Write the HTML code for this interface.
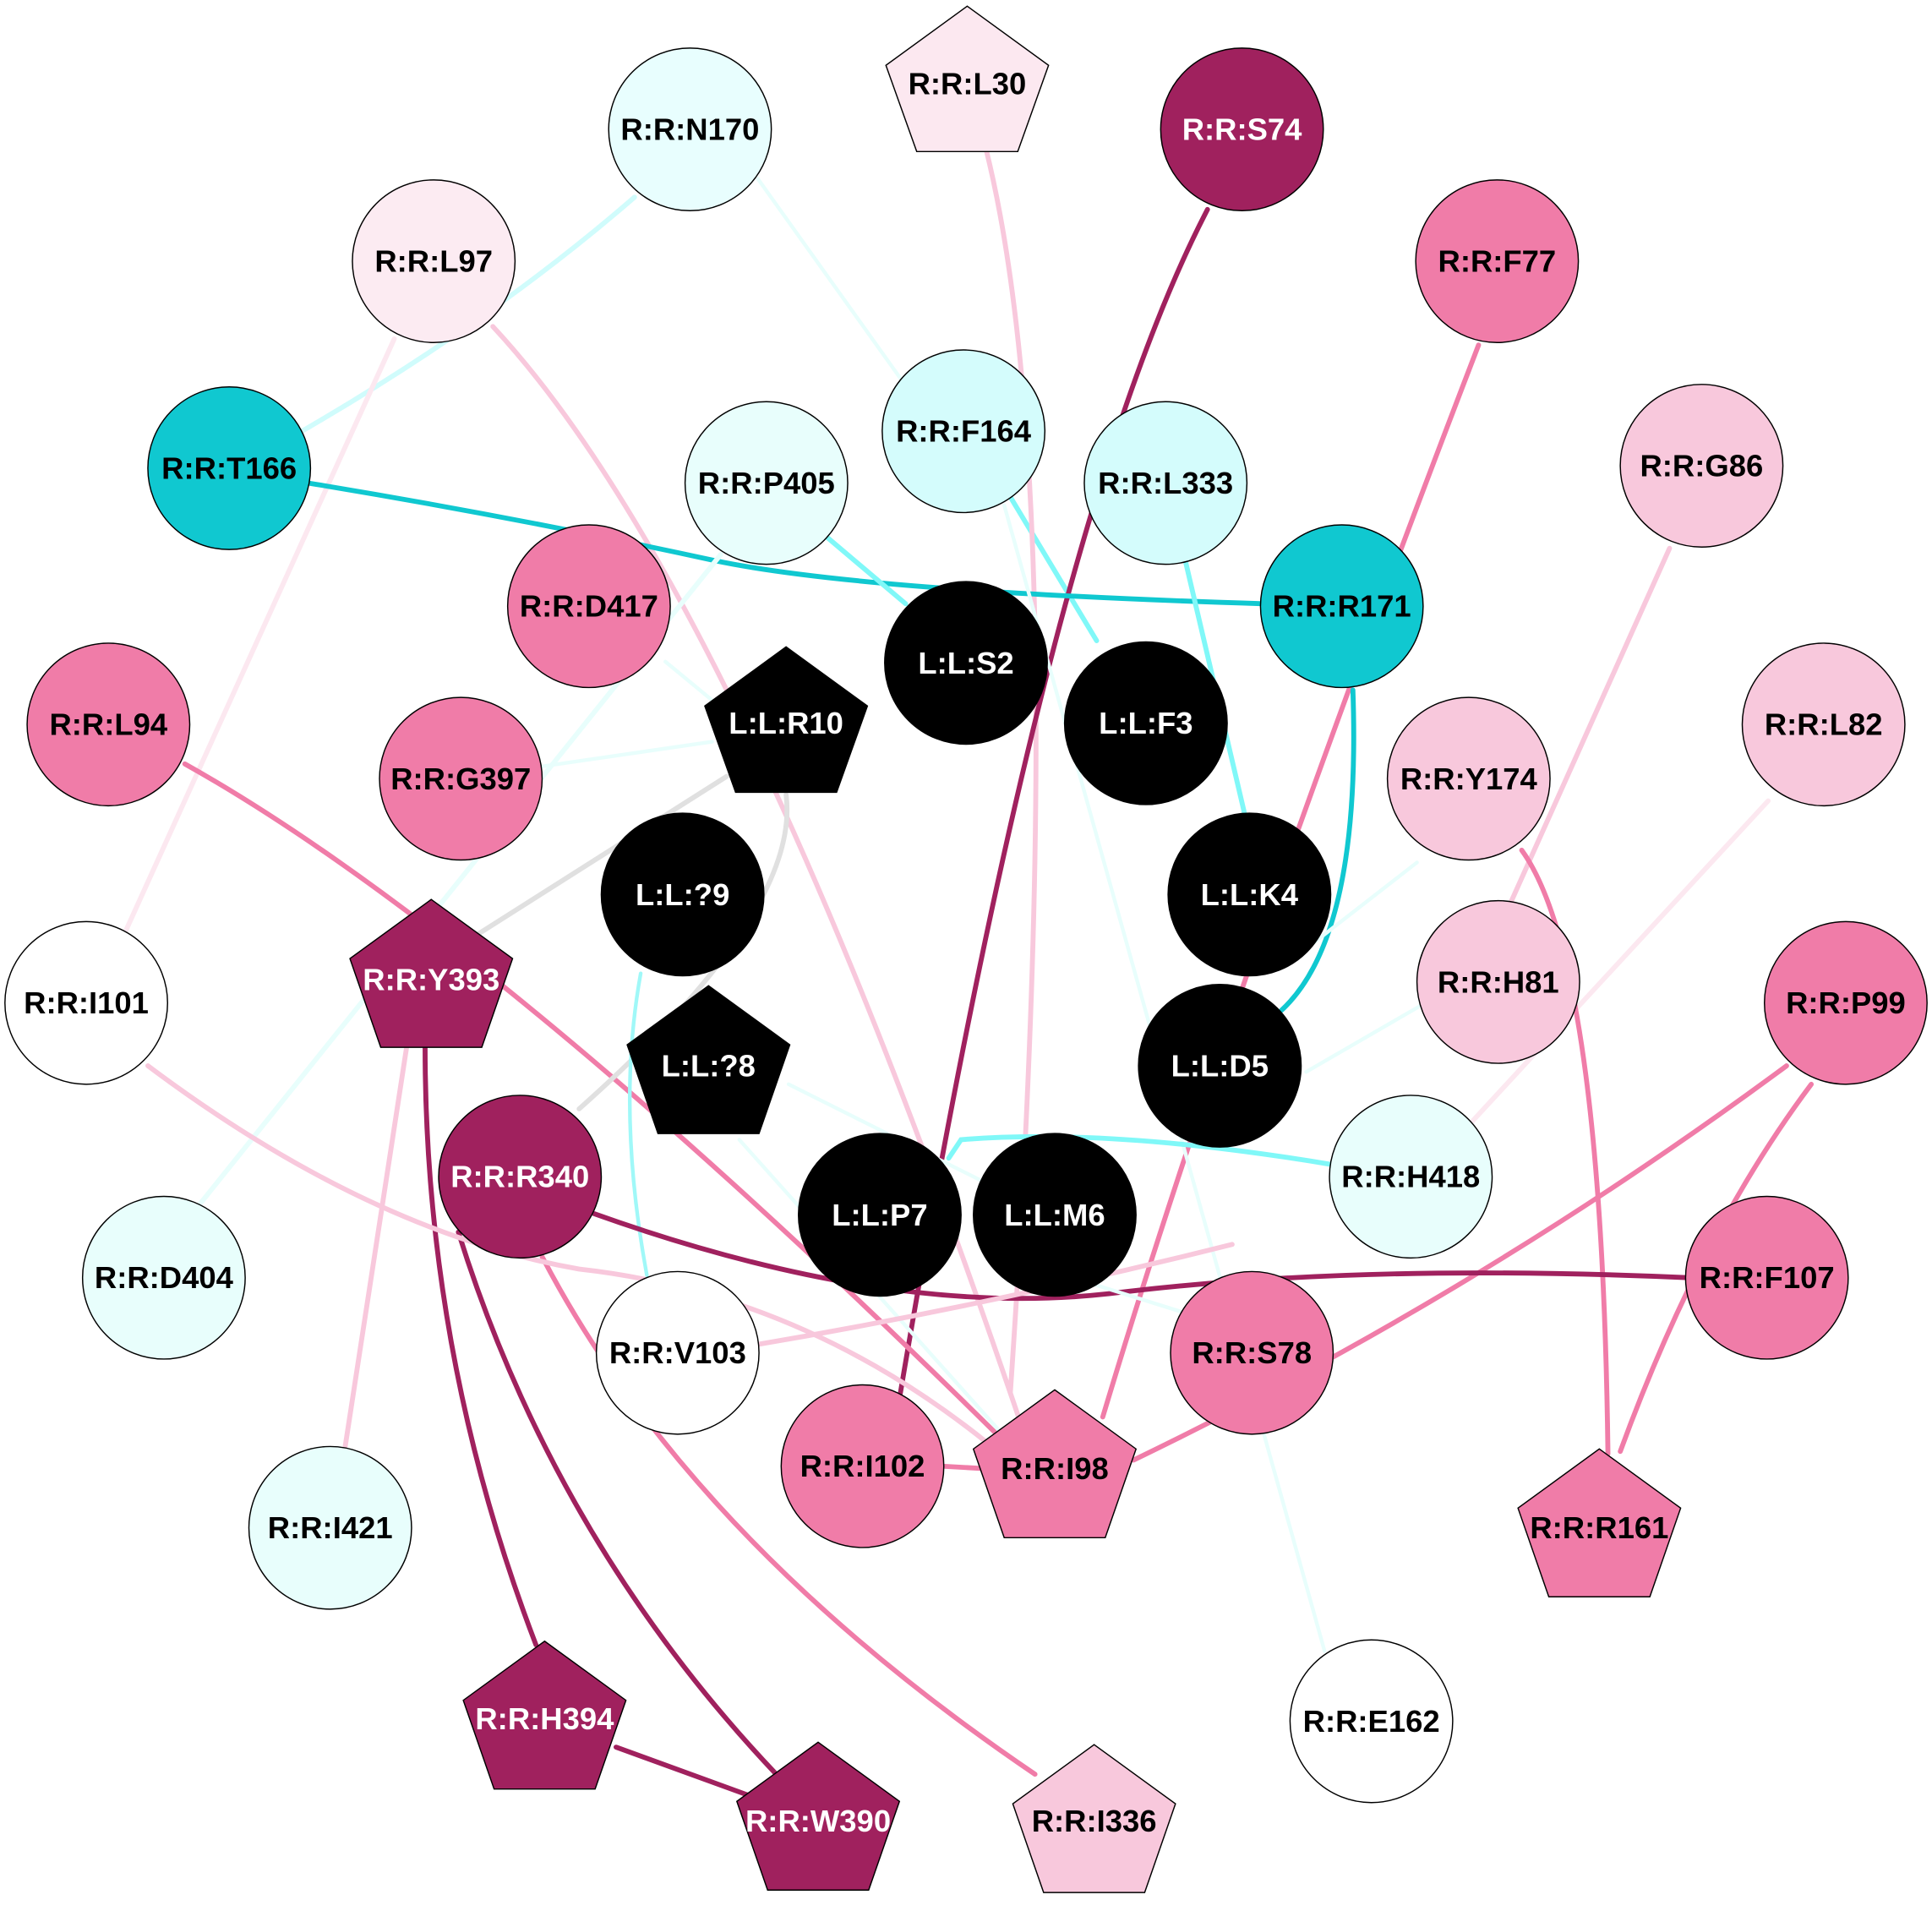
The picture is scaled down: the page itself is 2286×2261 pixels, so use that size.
<!DOCTYPE html>
<html><head><meta charset="utf-8"><style>
html,body{margin:0;padding:0;background:#fff;width:2286px;height:2261px;overflow:hidden}
svg{display:block}
text{font-family:"Liberation Sans",Arial,sans-serif;font-weight:bold;font-size:25px;text-anchor:middle;dominant-baseline:central}
</style></head><body>
<svg width="2286" height="2261" viewBox="0 0 1568 1551" preserveAspectRatio="none" xmlns="http://www.w3.org/2000/svg">
<g fill="none" stroke-linecap="round">
<path d="M515,160 Q400,260 245,350" stroke="#d0fcfc" stroke-width="4"/>
<path d="M615,145 L740,320" stroke="#e8fefc" stroke-width="3"/>
<path d="M815,395 L890,520" stroke="#80f8f8" stroke-width="4"/>
<path d="M800,120 Q870,400 820,1130" stroke="#f8c8dc" stroke-width="4"/>
<path d="M980,170 Q850,420 730,1135" stroke="#a0215e" stroke-width="4"/>
<path d="M1200,280 Q1000,800 895,1150" stroke="#f07ca8" stroke-width="4"/>
<path d="M400,265 Q600,480 830,1160" stroke="#f8c8dc" stroke-width="4"/>
<path d="M320,275 L100,760" stroke="#fce8f0" stroke-width="4"/>
<path d="M250,392 Q420,420 580,455 Q700,480 1025,490" stroke="#10c8d0" stroke-width="4"/>
<path d="M670,435 L735,490" stroke="#80f8f8" stroke-width="4"/>
<path d="M585,450 L160,980" stroke="#e8fefc" stroke-width="4"/>
<path d="M962,455 L1010,660" stroke="#80f8f8" stroke-width="4"/>
<path d="M815,410 Q950,900 1075,1340" stroke="#e8fefc" stroke-width="3"/>
<path d="M1098,560 Q1105,760 1040,820" stroke="#10c8d0" stroke-width="4"/>
<path d="M1355,445 L1225,735" stroke="#f8c8dc" stroke-width="4"/>
<path d="M1435,650 L1195,910" stroke="#fce8f0" stroke-width="4"/>
<path d="M1235,690 Q1300,780 1305,1180" stroke="#f07ca8" stroke-width="4"/>
<path d="M1150,700 L1060,770" stroke="#e8fefc" stroke-width="3"/>
<path d="M1155,815 L1060,870" stroke="#e8fefc" stroke-width="3"/>
<path d="M1080,945 Q900,915 780,925 L770,940" stroke="#80f8f8" stroke-width="4"/>
<path d="M1450,865 Q1200,1050 920,1185" stroke="#f07ca8" stroke-width="4"/>
<path d="M1470,880 Q1380,1000 1315,1178" stroke="#f07ca8" stroke-width="4"/>
<path d="M150,620 Q400,760 810,1165" stroke="#f07ca8" stroke-width="4"/>
<path d="M578,602 L440,622" stroke="#e8fefc" stroke-width="3"/>
<path d="M590,630 L385,760" stroke="#e0e0e0" stroke-width="4"/>
<path d="M638,645 Q650,740 470,900" stroke="#e0e0e0" stroke-width="4"/>
<path d="M540,537 L580,570" stroke="#e8fefc" stroke-width="3"/>
<path d="M520,790 Q500,900 525,1035" stroke="#a0f8f8" stroke-width="3"/>
<path d="M640,880 L800,960" stroke="#e8fefc" stroke-width="3"/>
<path d="M600,925 L810,1160" stroke="#e8fefc" stroke-width="3"/>
<path d="M345,850 Q345,1100 435,1335" stroke="#a0215e" stroke-width="4"/>
<path d="M330,850 L280,1175" stroke="#f8c8dc" stroke-width="4"/>
<path d="M372,1000 Q450,1250 630,1440" stroke="#a0215e" stroke-width="4"/>
<path d="M482,985 Q720,1070 900,1050 Q1100,1025 1370,1037" stroke="#a0215e" stroke-width="4"/>
<path d="M440,1020 Q560,1250 840,1440" stroke="#f07ca8" stroke-width="4"/>
<path d="M120,865 Q300,1000 470,1030 Q650,1050 800,1170" stroke="#f8c8dc" stroke-width="4"/>
<path d="M610,1092 Q800,1060 1000,1010" stroke="#f8c8dc" stroke-width="4"/>
<path d="M765,1190 L800,1192" stroke="#f07ca8" stroke-width="4"/>
<path d="M500,1418 L610,1458" stroke="#a0215e" stroke-width="4"/>
<path d="M880,1040 L960,1065" stroke="#e8fefc" stroke-width="3"/>
</g>
<g stroke="#000" stroke-width="1">
<circle cx="560" cy="105" r="66" fill="#e8fefe"/>
<circle cx="1008" cy="105" r="66" fill="#a0215e"/>
<circle cx="352" cy="212" r="66" fill="#fcebf2"/>
<circle cx="1215" cy="212" r="66" fill="#f07ca8"/>
<circle cx="186" cy="380" r="66" fill="#10c8d0"/>
<circle cx="782" cy="350" r="66" fill="#d4fcfc"/>
<circle cx="622" cy="392" r="66" fill="#e8fefc"/>
<circle cx="946" cy="392" r="66" fill="#d4fcfc"/>
<circle cx="1381" cy="378" r="66" fill="#f8c8dc"/>
<circle cx="478" cy="492" r="66" fill="#f07ca8"/>
<circle cx="1089" cy="492" r="66" fill="#10c8d0"/>
<circle cx="784" cy="538" r="66" fill="#000"/>
<circle cx="930" cy="587" r="66" fill="#000"/>
<circle cx="88" cy="588" r="66" fill="#f07ca8"/>
<circle cx="374" cy="632" r="66" fill="#f07ca8"/>
<circle cx="1480" cy="588" r="66" fill="#f8c8dc"/>
<circle cx="1192" cy="632" r="66" fill="#f8c8dc"/>
<circle cx="554" cy="726" r="66" fill="#000"/>
<circle cx="1014" cy="726" r="66" fill="#000"/>
<circle cx="70" cy="814" r="66" fill="#fff"/>
<circle cx="1216" cy="797" r="66" fill="#f8c8dc"/>
<circle cx="1498" cy="814" r="66" fill="#f07ca8"/>
<circle cx="990" cy="865" r="66" fill="#000"/>
<circle cx="422" cy="955" r="66" fill="#a0215e"/>
<circle cx="1145" cy="955" r="66" fill="#e8fefc"/>
<circle cx="714" cy="986" r="66" fill="#000"/>
<circle cx="856" cy="986" r="66" fill="#000"/>
<circle cx="133" cy="1037" r="66" fill="#e8fefc"/>
<circle cx="1434" cy="1037" r="66" fill="#f07ca8"/>
<circle cx="550" cy="1098" r="66" fill="#fff"/>
<circle cx="1016" cy="1098" r="66" fill="#f07ca8"/>
<circle cx="700" cy="1190" r="66" fill="#f07ca8"/>
<circle cx="268" cy="1240" r="66" fill="#e8fefc"/>
<circle cx="1113" cy="1397" r="66" fill="#fff"/>
<polygon points="785,5 851,53 826,123 744,123 719,53" fill="#fce8f0"/>
<polygon points="638,525 704,573 679,643 597,643 572,573" fill="#000"/>
<polygon points="350,730 416,778 391,850 309,850 284,778" fill="#a0215e"/>
<polygon points="575,800 641,848 616,920 534,920 509,848" fill="#000"/>
<polygon points="856,1128 922,1176 897,1248 815,1248 790,1176" fill="#f07ca8"/>
<polygon points="1298,1176 1364,1224 1339,1296 1257,1296 1232,1224" fill="#f07ca8"/>
<polygon points="442,1332 508,1380 483,1452 401,1452 376,1380" fill="#a0215e"/>
<polygon points="664,1414 730,1462 705,1534 623,1534 598,1462" fill="#a0215e"/>
<polygon points="888,1416 954,1464 929,1536 847,1536 822,1464" fill="#f8c8dc"/>
</g>
<g fill="#000">
<text x="785" y="68">R:R:L30</text>
<text x="560" y="105">R:R:N170</text>
<text x="352" y="212">R:R:L97</text>
<text x="1215" y="212">R:R:F77</text>
<text x="186" y="380">R:R:T166</text>
<text x="782" y="350">R:R:F164</text>
<text x="622" y="392">R:R:P405</text>
<text x="946" y="392">R:R:L333</text>
<text x="1381" y="378">R:R:G86</text>
<text x="478" y="492">R:R:D417</text>
<text x="1089" y="492">R:R:R171</text>
<text x="88" y="588">R:R:L94</text>
<text x="374" y="632">R:R:G397</text>
<text x="1480" y="588">R:R:L82</text>
<text x="1192" y="632">R:R:Y174</text>
<text x="70" y="814">R:R:I101</text>
<text x="1216" y="797">R:R:H81</text>
<text x="1498" y="814">R:R:P99</text>
<text x="1145" y="955">R:R:H418</text>
<text x="133" y="1037">R:R:D404</text>
<text x="1434" y="1037">R:R:F107</text>
<text x="550" y="1098">R:R:V103</text>
<text x="1016" y="1098">R:R:S78</text>
<text x="700" y="1190">R:R:I102</text>
<text x="856" y="1192">R:R:I98</text>
<text x="1298" y="1240">R:R:R161</text>
<text x="268" y="1240">R:R:I421</text>
<text x="1113" y="1397">R:R:E162</text>
<text x="888" y="1478">R:R:I336</text>
</g>
<g fill="#fff">
<text x="1008" y="105">R:R:S74</text>
<text x="784" y="538">L:L:S2</text>
<text x="638" y="587">L:L:R10</text>
<text x="930" y="587">L:L:F3</text>
<text x="554" y="726">L:L:?9</text>
<text x="1014" y="726">L:L:K4</text>
<text x="350" y="795">R:R:Y393</text>
<text x="575" y="865">L:L:?8</text>
<text x="990" y="865">L:L:D5</text>
<text x="422" y="955">R:R:R340</text>
<text x="714" y="986">L:L:P7</text>
<text x="856" y="986">L:L:M6</text>
<text x="442" y="1395">R:R:H394</text>
<text x="664" y="1478">R:R:W390</text>
</g>
</svg>
</body></html>
